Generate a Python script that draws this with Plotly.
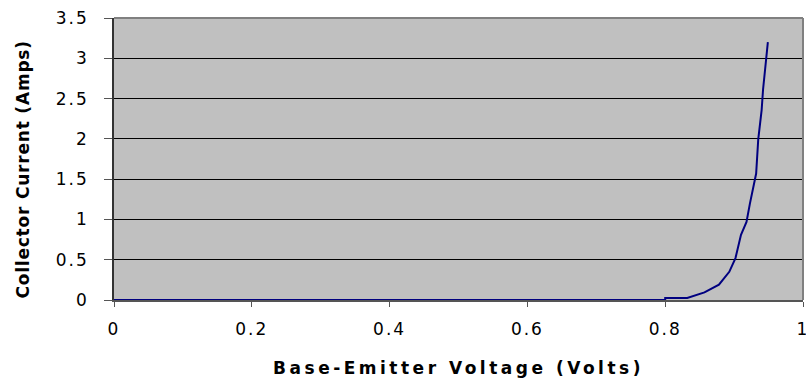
import plotly.graph_objects as go

voltage = [0, 0.1, 0.2, 0.3, 0.4, 0.5, 0.6, 0.7, 0.8, 0.8, 0.832, 0.857, 0.878,
           0.893, 0.902, 0.910, 0.918, 0.923, 0.932, 0.935, 0.940, 0.942, 0.944, 0.949]
current = [0, 0, 0, 0, 0, 0, 0, 0, 0, 0.025, 0.025, 0.095, 0.19,
           0.35, 0.52, 0.81, 0.97, 1.20, 1.57, 1.99, 2.36, 2.61, 2.81, 3.20]

x_ticks = [0, 0.2, 0.4, 0.6, 0.8, 1]
x_tick_labels = ["0", "0.2", "0.4", "0.6", "0.8", "1"]
y_ticks = [0, 0.5, 1, 1.5, 2, 2.5, 3, 3.5]
y_tick_labels = ["0", "0.5", "1", "1.5", "2", "2.5", "3", "3.5"]

x_title = "Base-Emitter Voltage (Volts)"
y_title = "Collector Current (Amps)"

fig = go.Figure()
fig.add_trace(go.Scatter(x=voltage, y=current, mode="lines",
                         line=dict(color="#000080", width=2), showlegend=False))

tick_font = dict(family="DejaVu Sans", size=17, color="#000000")
title_font = dict(family="DejaVu Sans", size=17, color="#000000", weight="bold")

fig.update_layout(
    width=806, height=379,
    margin=dict(l=114, r=3, t=18, b=79, autoexpand=False),
    paper_bgcolor="#FFFFFF",
    plot_bgcolor="#C0C0C0",
    xaxis=dict(range=[0, 1], tickmode="array", tickvals=x_ticks, ticktext=x_tick_labels,
               showgrid=False, zeroline=False, automargin=False,
               showline=True, linecolor="#555555", linewidth=2,
               ticks="outside", ticklen=5, tickcolor="#555555", tickwidth=1,
               ticklabelstandoff=8, ticklabeloverflow="allow",
               tickfont=tick_font,
               title=dict(text=x_title, font=title_font, standoff=24)),
    yaxis=dict(range=[0, 3.5], tickmode="array", tickvals=y_ticks, ticktext=y_tick_labels,
               showgrid=True, gridcolor="#000000",
               gridwidth=1, zeroline=False, automargin=False,
               showline=True, linecolor="#333333", linewidth=1.5,
               ticks="outside", ticklen=8, tickcolor="#555555", tickwidth=1,
               ticklabelstandoff=12, ticklabeloverflow="allow",
               tickfont=tick_font),
    annotations=[
        dict(text=y_title, font=title_font, textangle=-90, showarrow=False,
             xref="paper", yref="paper", x=0, y=0.5, xanchor="center", yanchor="middle",
             xshift=-91, yshift=-11),
    ],
    shapes=[
        dict(type="line", xref="paper", yref="paper", x0=0, x1=1, y0=1, y1=1,
             line=dict(color="#808080", width=2)),
        dict(type="line", xref="paper", yref="paper", x0=1, x1=1, y0=0, y1=1,
             line=dict(color="#808080", width=2)),
    ],
)

post = """
document.querySelectorAll('.xtitle').forEach(function(e){e.style.letterSpacing='3.5px';});
document.querySelectorAll('.annotation-text').forEach(function(e){e.style.letterSpacing='0.8px';});
document.querySelectorAll('.xtick text, .ytick text').forEach(function(e){e.style.letterSpacing='2px';});
"""

fig.write_html("out.html", post_script=post)
